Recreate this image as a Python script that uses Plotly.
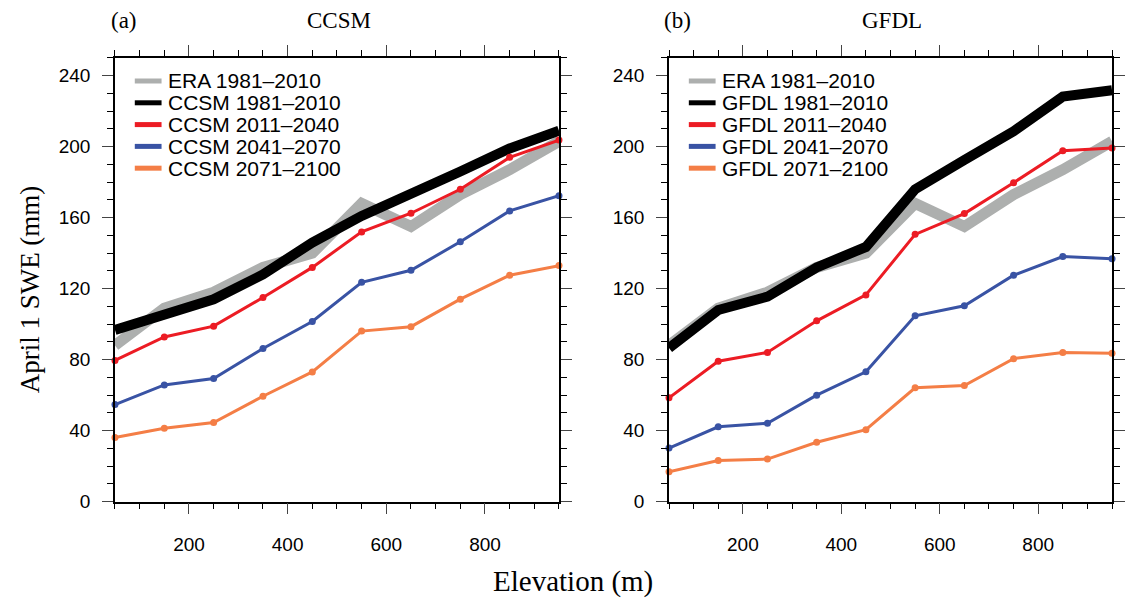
import plotly.graph_objects as go

# Elevation bins (m)
elevation = [50, 150, 250, 350, 450, 550, 650, 750, 850, 950]

# April 1 SWE (mm)
era_1981_2010 = [88, 109, 118, 132, 140, 168, 155, 173, 187, 203]

ccsm_1981_2010 = [96.8, 106, 114, 128, 146, 161, 173, 186, 199, 209]
ccsm_2011_2040 = [79.6, 92.8, 98.9, 115, 132, 152, 162.5, 176, 194, 203.7]
ccsm_2041_2070 = [54.7, 65.8, 69.4, 86.3, 101.5, 123.6, 130.4, 146.4, 163.8, 172.4]
ccsm_2071_2100 = [36.2, 41.4, 44.6, 59.4, 73.1, 96.1, 98.6, 114.1, 127.6, 133]

gfdl_1981_2010 = [86.6, 108, 115.5, 132, 143.5, 176, 192.5, 208.7, 228.2, 231.8]
gfdl_2011_2040 = [58.5, 79.1, 84.1, 101.9, 116.5, 150.6, 162.3, 179.7, 197.7, 199.2]
gfdl_2041_2070 = [30.2, 42.2, 44.2, 60, 73.2, 104.7, 110.4, 127.6, 138.1, 136.8]
gfdl_2071_2100 = [16.9, 23.2, 24, 33.5, 40.6, 64.2, 65.4, 80.6, 84.1, 83.6]

periods = ["1981\u20132010", "2011\u20132040", "2041\u20132070", "2071\u20132100"]

GRAY = "#adafae"
COLORS = ["#000000", "#ec1c24", "#3953a4", "#f47e46"]

SERIF = "Liberation Serif"
SANS = "Liberation Sans"

W, H = 1125, 604

fig = go.Figure()
shapes = []
annotations = []


def add_panel(model, series, xa, ya, left_px):
    # ERA reference
    fig.add_trace(go.Scatter(x=elevation, y=era_1981_2010, mode="lines",
                             line=dict(color=GRAY, width=11), name="ERA 1981\u20132010",
                             xaxis=xa, yaxis=ya, showlegend=False))
    for i, (vals, col) in enumerate(zip(series, COLORS)):
        name = f"{model} {periods[i]}"
        if i == 0:
            fig.add_trace(go.Scatter(x=elevation, y=vals, mode="lines", name=name,
                                     line=dict(color=col, width=10),
                                     xaxis=xa, yaxis=ya, showlegend=False))
        else:
            fig.add_trace(go.Scatter(x=elevation, y=vals, mode="lines+markers", name=name,
                                     line=dict(color=col, width=3),
                                     marker=dict(color=col, size=7),
                                     xaxis=xa, yaxis=ya, showlegend=False,
                                     cliponaxis=False))
    # legend drawn inside the panel, top-left
    names = ["ERA 1981\u20132010"] + [f"{model} {p}" for p in periods]
    for k, (name, col) in enumerate(zip(names, [GRAY] + COLORS)):
        yy = (H - (82.5 + 22.2 * k)) / H
        shapes.append(dict(type="line", xref="paper", yref="paper",
                           x0=(left_px + 20) / W, x1=(left_px + 47) / W, y0=yy, y1=yy,
                           line=dict(color=col, width=5)))
        annotations.append(dict(text=name, x=(left_px + 51) / W, y=yy,
                                xref="paper", yref="paper", xanchor="left",
                                yanchor="middle", showarrow=False,
                                font=dict(family=SANS, size=21, color="black")))


add_panel("CCSM", [ccsm_1981_2010, ccsm_2011_2040, ccsm_2041_2070, ccsm_2071_2100],
          "x", "y", 116)
add_panel("GFDL", [gfdl_1981_2010, gfdl_2011_2040, gfdl_2041_2070, gfdl_2071_2100],
          "x2", "y2", 675)

xax = dict(range=[50, 950], tickvals=[200, 400, 600, 800], ticks="outside",
           ticklen=11, tickwidth=1.3, showline=True, linecolor="black", linewidth=1.5,
           mirror="ticks", showgrid=False, zeroline=False, ticklabelstandoff=14,
           tickfont=dict(family=SANS, size=19, color="black"),
           minor=dict(tickvals=list(range(50, 951, 50)), ticks="outside",
                      ticklen=6, tickwidth=1.1, tickcolor="black"))
yax = dict(range=[0, 250], tickvals=[0, 40, 80, 120, 160, 200, 240], ticks="outside",
           ticklen=11, tickwidth=1.3, showline=True, linecolor="black", linewidth=1.5,
           mirror="ticks", showgrid=False, zeroline=False, ticklabelstandoff=8,
           tickfont=dict(family=SANS, size=19, color="black"),
           minor=dict(tickvals=list(range(0, 251, 10)), ticks="outside",
                      ticklen=6, tickwidth=1.1, tickcolor="black"))

ydom = [(H - 511) / H, (H - 59) / H]


def title(text, x, y, anchor, size, angle=0):
    annotations.append(dict(text=text, x=x / W, y=(H - y) / H, xref="paper", yref="paper",
                            xanchor=anchor, yanchor="middle", showarrow=False,
                            textangle=angle,
                            font=dict(family=SERIF, size=size, color="black")))


title("(a)", 110, 20.5, "left", 23)
title("CCSM", 342, 20.5, "center", 23)
title("(b)", 668, 20.5, "left", 23)
title("GFDL", 900, 20.5, "center", 23)
title("April 1 SWE (mm)", 30, 295, "center", 27, -90)
title("Elevation (m)", 578, 592, "center", 29)

fig.update_layout(
    width=W, height=H,
    margin=dict(l=0, r=0, t=0, b=0),
    paper_bgcolor="white", plot_bgcolor="white",
    showlegend=False,
    xaxis=dict(xax, domain=[116 / W, 564 / W], anchor="y"),
    yaxis=dict(yax, domain=ydom, anchor="x"),
    xaxis2=dict(xax, domain=[675 / W, 1122 / W], anchor="y2"),
    yaxis2=dict(yax, domain=ydom, anchor="x2"),
    shapes=shapes,
    annotations=annotations,
)

# pin the figure to the page's top-left corner, with nothing else in the flow
page_js = ("var d=document.getElementById('{plot_id}');"
           "d.style.position='fixed';d.style.left='0';d.style.top='0';"
           "document.documentElement.style.margin='0';"
           "document.documentElement.style.overflow='hidden';"
           "document.body.style.margin='0';"
           "document.body.style.overflow='hidden';")
fig.write_html("out.html", post_script=page_js,
               config={"displayModeBar": False})
